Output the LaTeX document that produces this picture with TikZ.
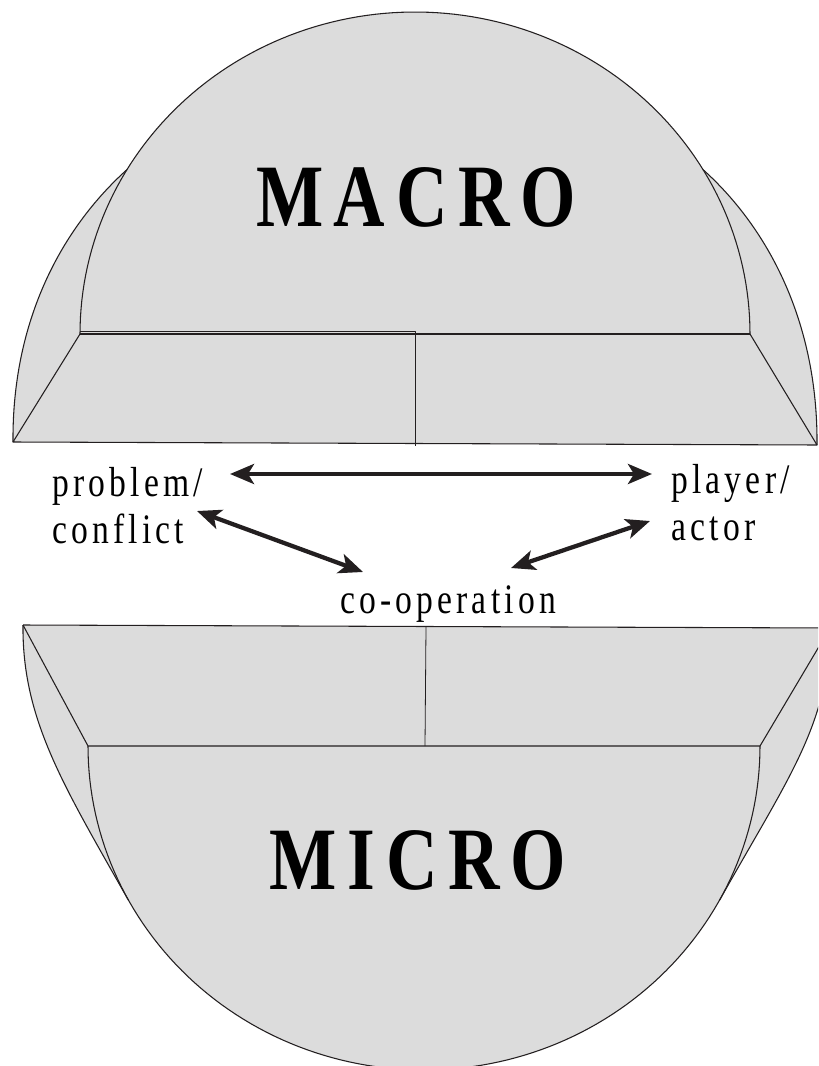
\documentclass[tikz,border=0pt]{standalone}
\usepackage{fontspec}
\setmainfont{Liberation Serif}
\newfontfamily\lblfont{Liberation Serif}[FakeStretch=0.8, LetterSpace=10]
\newfontfamily\bigfont{Liberation Serif}[FakeStretch=0.8, LetterSpace=12]
\usetikzlibrary{arrows.meta}
\definecolor{face}{RGB}{220,220,220}
\definecolor{ink}{RGB}{35,31,32}
\tikzset{
  edge/.style={draw=ink, line width=0.8pt, line join=round},
  lbl/.style={inner sep=0pt, font=\lblfont\fontsize{31.5}{35.25}\selectfont, text=black},
  bigtxt/.style={inner sep=0pt, font=\bigfont\bfseries\fontsize{66.8}{70}\selectfont, text=black},
  biarrow/.style={draw=ink, line width=3.2pt, {Stealth[length=18pt, width=15pt, inset=4.5pt]}-{Stealth[length=18pt, width=15pt, inset=4.5pt]}}
}
\begin{document}
\begin{tikzpicture}[x=0.75pt, y=-0.75pt]
\fill[white] (0,0) rectangle (818,1066);
\useasboundingbox (0,0) rectangle (818,1066);
\begin{scope}
\clip (0,0) rectangle (818,1066);
% ---------- MACRO (upper) ----------
\fill[face] (13,442) .. controls (12,320) and (62,228) .. (127,169.6)
  -- plot[domain=149.3:30.7, samples=80] ({415+335*cos(\x)}, {334-322*sin(\x)})
  .. controls (768,228) and (818,322) .. (817,445) -- cycle;
\draw[edge] (13,442) .. controls (12,320) and (62,228) .. (127,169.6);
\draw[edge] (703,169.6) .. controls (768,228) and (818,322) .. (817,445);
\draw[edge] plot[domain=180:0, samples=120] ({415+335*cos(\x)}, {334-322*sin(\x)});
\draw[edge] (80,334) -- (750,334);
\draw[edge] (80,334) -- (13,442) -- (817,445) -- (750,334);
\draw[edge, line width=0.6pt] (80,331) -- (415,331) -- (415,446);
% ---------- MICRO (lower) ----------
\fill[face] (23,625) -- (830,628) .. controls (829,725) and (788,778) .. (719.7,900)
  -- plot[domain=28.4:151.6, samples=100] ({424+336*cos(\x)}, {746+324*sin(\x)})
  .. controls (64.6,787) and (22,720) .. (23,625) -- cycle;
\draw[edge] (830,628) .. controls (829,725) and (788,778) .. (719.7,900);
\draw[edge] (128.3,900) .. controls (64.6,787) and (22,720) .. (23,625);
\draw[edge] plot[domain=0:180, samples=120] ({424+336*cos(\x)}, {746+324*sin(\x)});
\draw[edge] (23,625) -- (830,628);
\draw[edge] (23,625) -- (88,746) -- (760,746) -- (830,628);
\draw[edge, line width=0.6pt] (426,627) -- (425,746);
\end{scope}
% ---------- texts ----------
\node[bigtxt, anchor=base] (macro) at (416,227) {MACRO};
\node[bigtxt, anchor=base] (micro) at (418,889) {MICRO};
\node[lbl, anchor=base west, align=left] (problem) at (52,543) {problem/\\conflict};
\node[lbl, anchor=base west, align=left] (player) at (671,540) {player/\\actor};
\node[lbl, anchor=base] (coop) at (448,613) {co-operation};
% ---------- arrows ----------
\coordinate (hL) at (230,474);
\coordinate (hR) at (652,474);
\coordinate (dL1) at (197,511);
\coordinate (dL2) at (363,572);
\coordinate (dR1) at (650,521);
\coordinate (dR2) at (511,568);
\draw[biarrow] (hL) -- (hR);
\draw[biarrow] (dL1) -- (dL2);
\draw[biarrow] (dR1) -- (dR2);
\end{tikzpicture}
\end{document}
